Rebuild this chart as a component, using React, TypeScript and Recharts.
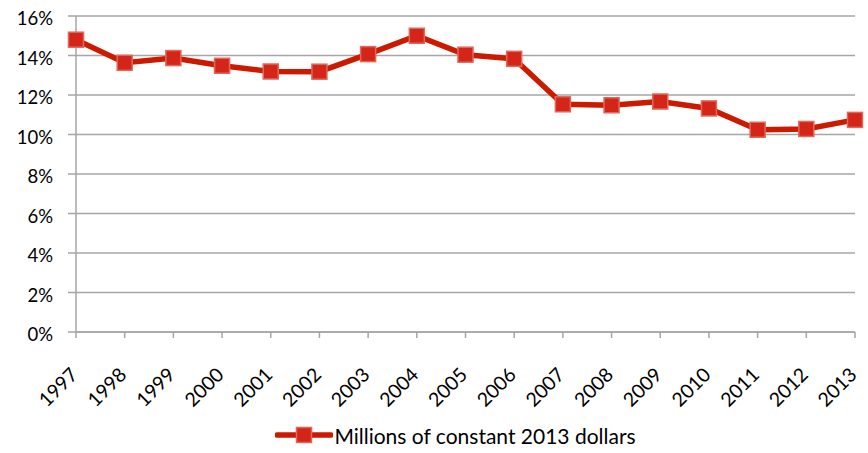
import { LineChart, Line, XAxis, YAxis, CartesianGrid, Legend } from "recharts";

const years = [
  "1997", "1998", "1999", "2000", "2001", "2002", "2003", "2004", "2005",
  "2006", "2007", "2008", "2009", "2010", "2011", "2012", "2013",
];
const shares = [
  14.8, 13.63, 13.87, 13.48, 13.19, 13.18, 14.07, 15.0, 14.04,
  13.83, 11.53, 11.48, 11.67, 11.32, 10.24, 10.28, 10.74,
];
const yTicks = [0, 2, 4, 6, 8, 10, 12, 14, 16];
const seriesName = "Millions of constant 2013 dollars";

const data = years.map((year, i) => ({ year, share: shares[i] }));

const RED = "#cc1a00";
const FONT = "Lato, 'Open Sans', sans-serif";

const XTick = ({ x, y, payload }: any) => (
  <g transform={`translate(${x + 3},${y + 36})`}>
    <text
      x={0}
      y={0}
      textAnchor="end"
      transform="rotate(-45)"
      fontSize={19.5}
      fontFamily={FONT}
      fill="#000"
    >
      {payload.value}
    </text>
  </g>
);

const YTick = ({ x, y, payload }: any) => (
  <text x={x} y={y} dy={9} textAnchor="end" fontSize={18.5} fontFamily={FONT} fill="#000">
    {payload.value}%
  </text>
);

const SquareDot = ({ cx, cy, index }: any) => (
  <rect
    key={`dot-${index}`}
    x={cx - 7.5}
    y={cy - 7.5}
    width={15}
    height={15}
    fill="#d42618"
    stroke="#e2665a"
    strokeWidth={1.5}
  />
);

const LegendContent = () => (
  <div
    style={{
      height: 36,
      display: "flex",
      alignItems: "center",
      justifyContent: "center",
      paddingLeft: 56,
      fontFamily: FONT,
      fontSize: 21,
      color: "#000",
    }}
  >
    <svg width={58} height={20} style={{ marginRight: 1 }}>
      <line x1={2} y1={10} x2={56} y2={10} stroke={RED} strokeWidth={5.5} strokeLinecap="round" />
      <rect x={21.5} y={2.5} width={15} height={15} fill="#d42618" stroke="#e2665a" strokeWidth={1.5} />
    </svg>
    <span>{seriesName}</span>
  </div>
);

export default function App() {
  return (
    <div style={{ position: "absolute", left: 0, top: 0, background: "#fff" }}>
      <LineChart
        width={868}
        height={453}
        data={data}
        margin={{ top: 16, right: 13, bottom: 0, left: 0 }}
      >
        <CartesianGrid vertical={false} stroke="#a6a6a6" strokeWidth={1.5} />
        <XAxis
          dataKey="year"
          interval={0}
          height={85}
          padding={{ left: 0, right: 0 }}
          stroke="#a6a6a6"
          strokeWidth={1.5}
          tickSize={6}
          tick={<XTick />}
        />
        <YAxis
          domain={[0, 16]}
          ticks={yTicks}
          width={76}
          stroke="#a6a6a6"
          strokeWidth={1.5}
          tickSize={8}
          tickMargin={15}
          tick={<YTick />}
        />
        <Legend verticalAlign="bottom" content={<LegendContent />} />
        <Line
          dataKey="share"
          name={seriesName}
          stroke={RED}
          strokeWidth={5.5}
          dot={<SquareDot />}
          isAnimationActive={false}
        />
      </LineChart>
    </div>
  );
}
